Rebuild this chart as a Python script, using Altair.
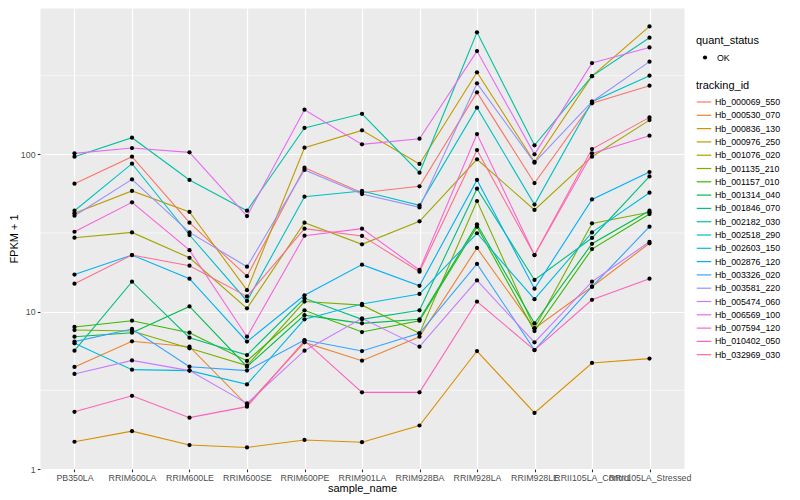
import altair as alt
import pandas as pd

sample_names = ["PB350LA", "RRIM600LA", "RRIM600LE", "RRIM600SE", "RRIM600PE",
                "RRIM901LA", "RRIM928BA", "RRIM928LA", "RRIM928LE",
                "RRII105LA_Control", "RRII105LA_Stressed"]

tracking_ids = ["Hb_000069_550", "Hb_000530_070", "Hb_000836_130", "Hb_000976_250",
                "Hb_001076_020", "Hb_001135_210", "Hb_001157_010", "Hb_001314_040",
                "Hb_001846_070", "Hb_002182_030", "Hb_002518_290", "Hb_002603_150",
                "Hb_002876_120", "Hb_003326_020", "Hb_003581_220", "Hb_005474_060",
                "Hb_006569_100", "Hb_007594_120", "Hb_010402_050", "Hb_032969_030"]

hue_colors = ["#F8766D", "#EA8331", "#D89000", "#C09B00", "#A3A500", "#7CAE00",
              "#39B600", "#00BB4E", "#00BF7D", "#00C1A3", "#00BFC4", "#00BAE0",
              "#00B0F6", "#35A2FF", "#9590FF", "#C77CFF", "#E76BF3", "#FA62DB",
              "#FF62BC", "#FF6C91"]

hb_000069_550 = [65.1, 96.6, 36.8, 16.8, 82.2, 57.0, 62.6, 247.6, 65.7, 211, 273]
hb_000530_070 = [4.45, 6.48, 5.99, 2.55, 6.38, 4.88, 6.93, 25.4, 7.83, 14.4, 27.2]
hb_000836_130 = [1.49, 1.74, 1.42, 1.37, 1.53, 1.48, 1.89, 5.62, 2.27, 4.72, 5.03]
hb_000976_250 = [42.2, 58.5, 43.0, 13.7, 110.2, 142, 86.8, 332, 89.4, 314, 650]
hb_001076_020 = [29.5, 31.9, 22.0, 10.5, 36.8, 26.8, 37.5, 92.9, 44.3, 96.6, 165]
hb_001135_210 = [7.64, 7.53, 5.85, 4.54, 11.6, 11.0, 7.28, 50.5, 7.83, 36.4, 42.8]
hb_001157_010 = [7.99, 8.76, 7.35, 4.86, 10.2, 7.42, 8.76, 34.7, 7.53, 25.0, 41.7]
hb_001314_040 = [6.93, 7.35, 10.8, 4.47, 9.5, 8.43, 8.94, 35.9, 8.43, 27.0, 43.8]
hb_001846_070 = [5.65, 15.5, 6.83, 5.30, 12.15, 8.94, 10.2, 60.5, 15.9, 29.4, 72.4]
hb_002182_030 = [96.6, 127.5, 68.7, 43.8, 147, 181, 76.4, 596, 114, 314, 551]
hb_002518_290 = [43.8, 87.2, 30.7, 11.7, 53.8, 58.5, 47.4, 198, 47.9, 216, 316]
hb_002603_150 = [6.29, 4.28, 4.22, 3.45, 8.94, 11.2, 12.95, 31.5, 12.0, 31.9, 57.0]
hb_002876_120 = [17.2, 22.9, 16.2, 6.45, 12.7, 19.9, 14.6, 68.7, 14.0, 51.7, 77.2]
hb_003326_020 = [6.45, 7.76, 4.47, 4.22, 6.60, 5.62, 7.28, 20.1, 5.70, 14.4, 34.7]
hb_003581_220 = [40.7, 69.3, 31.9, 19.3, 79.5, 55.9, 46.0, 282.5, 88.5, 216, 388]
hb_005474_060 = [4.02, 4.90, 4.22, 2.61, 5.65, 9.07, 5.99, 15.8, 6.38, 15.5, 27.8]
hb_006569_100 = [101.4, 109.6, 102.9, 40.5, 192, 115.7, 125.7, 453, 100, 380, 478]
hb_007594_120 = [32.2, 49.5, 24.6, 6.93, 30.4, 33.7, 18.4, 134.6, 22.9, 101.4, 131.3]
hb_010402_050 = [2.31, 2.92, 2.12, 2.49, 6.54, 3.07, 3.07, 11.6, 5.70, 11.9, 16.2]
hb_032969_030 = [15.06, 22.9, 19.6, 12.5, 33.7, 30.3, 17.95, 106.5, 22.9, 108, 171.7]

series_values = [hb_000069_550, hb_000530_070, hb_000836_130, hb_000976_250,
                 hb_001076_020, hb_001135_210, hb_001157_010, hb_001314_040,
                 hb_001846_070, hb_002182_030, hb_002518_290, hb_002603_150,
                 hb_002876_120, hb_003326_020, hb_003581_220, hb_005474_060,
                 hb_006569_100, hb_007594_120, hb_010402_050, hb_032969_030]

major_breaks = [1, 10, 100]
minor_breaks = [3.1623, 31.623, 316.23]

rows = []
for tid, vals in zip(tracking_ids, series_values):
    for s, v in zip(sample_names, vals):
        rows.append({"tracking_id": tid, "sample_name": s, "value": v, "quant_status": "OK"})
df = pd.DataFrame(rows)
minor_df = pd.DataFrame({"value": minor_breaks})

FONT = "Liberation Sans"

y_scale = alt.Scale(type="log", domain=[1, 851], nice=False)
y_axis = alt.Axis(values=major_breaks, format="d", title="FPKM + 1", grid=True,
                  gridColor="white", gridWidth=1.2, domain=False, tickColor="#333333",
                  tickSize=2.75, tickWidth=1.1, labelColor="#4D4D4D", labelFontSize=8.8,
                  labelFont=FONT, labelPadding=2.2, titlePadding=0.5, titleFontSize=11,
                  titleFont=FONT, titleColor="black", titleFontWeight="normal")
y_enc = alt.Y("value:Q", scale=y_scale, axis=y_axis)

x_enc = alt.X("sample_name:N", sort=sample_names,
              scale=alt.Scale(type="point", padding=0.6),
              axis=alt.Axis(title="sample_name", labelAngle=0, labelOverlap=False,
                            labelLimit=0, labelBound=False, grid=True, gridColor="white",
                            gridWidth=1.2, domain=False, tickColor="#333333", tickSize=2.75,
                            tickWidth=1.1, labelColor="#4D4D4D", labelFontSize=8.8,
                            labelFont=FONT, labelPadding=1.5, titlePadding=0,
                            titleFontSize=11, titleFont=FONT, titleColor="black",
                            titleFontWeight="normal"))

rules = alt.Chart(minor_df).mark_rule(color="white", strokeWidth=0.6).encode(y=y_enc)

lines = alt.Chart(df).mark_line(strokeWidth=1.1).encode(
    x=x_enc,
    y=y_enc,
    color=alt.Color("tracking_id:N",
                    scale=alt.Scale(domain=tracking_ids, range=hue_colors),
                    legend=alt.Legend(title="tracking_id", orient="none", legendX=656,
                                      legendY=72, symbolType="stroke", symbolSize=210,
                                      symbolStrokeWidth=1.2, labelFontSize=8.8,
                                      labelColor="black", labelFont=FONT,
                                      titleFontSize=11, titleFont=FONT,
                                      titleFontWeight="normal", titleColor="black",
                                      titlePadding=3, rowPadding=0.3, labelOffset=3,
                                      padding=0)),
)

points = alt.Chart(df).mark_point(filled=True, color="black", size=18, opacity=1).encode(
    x=x_enc,
    y=y_enc,
    shape=alt.Shape("quant_status:N",
                    scale=alt.Scale(domain=["OK"], range=["circle"]),
                    legend=alt.Legend(title="quant_status", orient="none", legendX=656,
                                      legendY=26.5, symbolSize=18, symbolFillColor="black",
                                      symbolStrokeColor="transparent", symbolStrokeWidth=13,
                                      labelFontSize=8.8, labelColor="black", labelFont=FONT,
                                      titleFontSize=11, titleFont=FONT,
                                      titleFontWeight="normal", titleColor="black",
                                      titlePadding=3, labelOffset=3, padding=0)),
)

chart = alt.layer(rules, lines, points).properties(
    width=644, height=461,
    padding={"left": 32, "top": 0, "right": 100, "bottom": 25},
    autosize=alt.AutoSizeParams(type="none"),
).configure(
    font=FONT,
    view=alt.ViewConfig(fill="#EBEBEB", stroke="transparent"),
)

chart.save("out.html", embed_options={"renderer": "svg", "actions": False})
